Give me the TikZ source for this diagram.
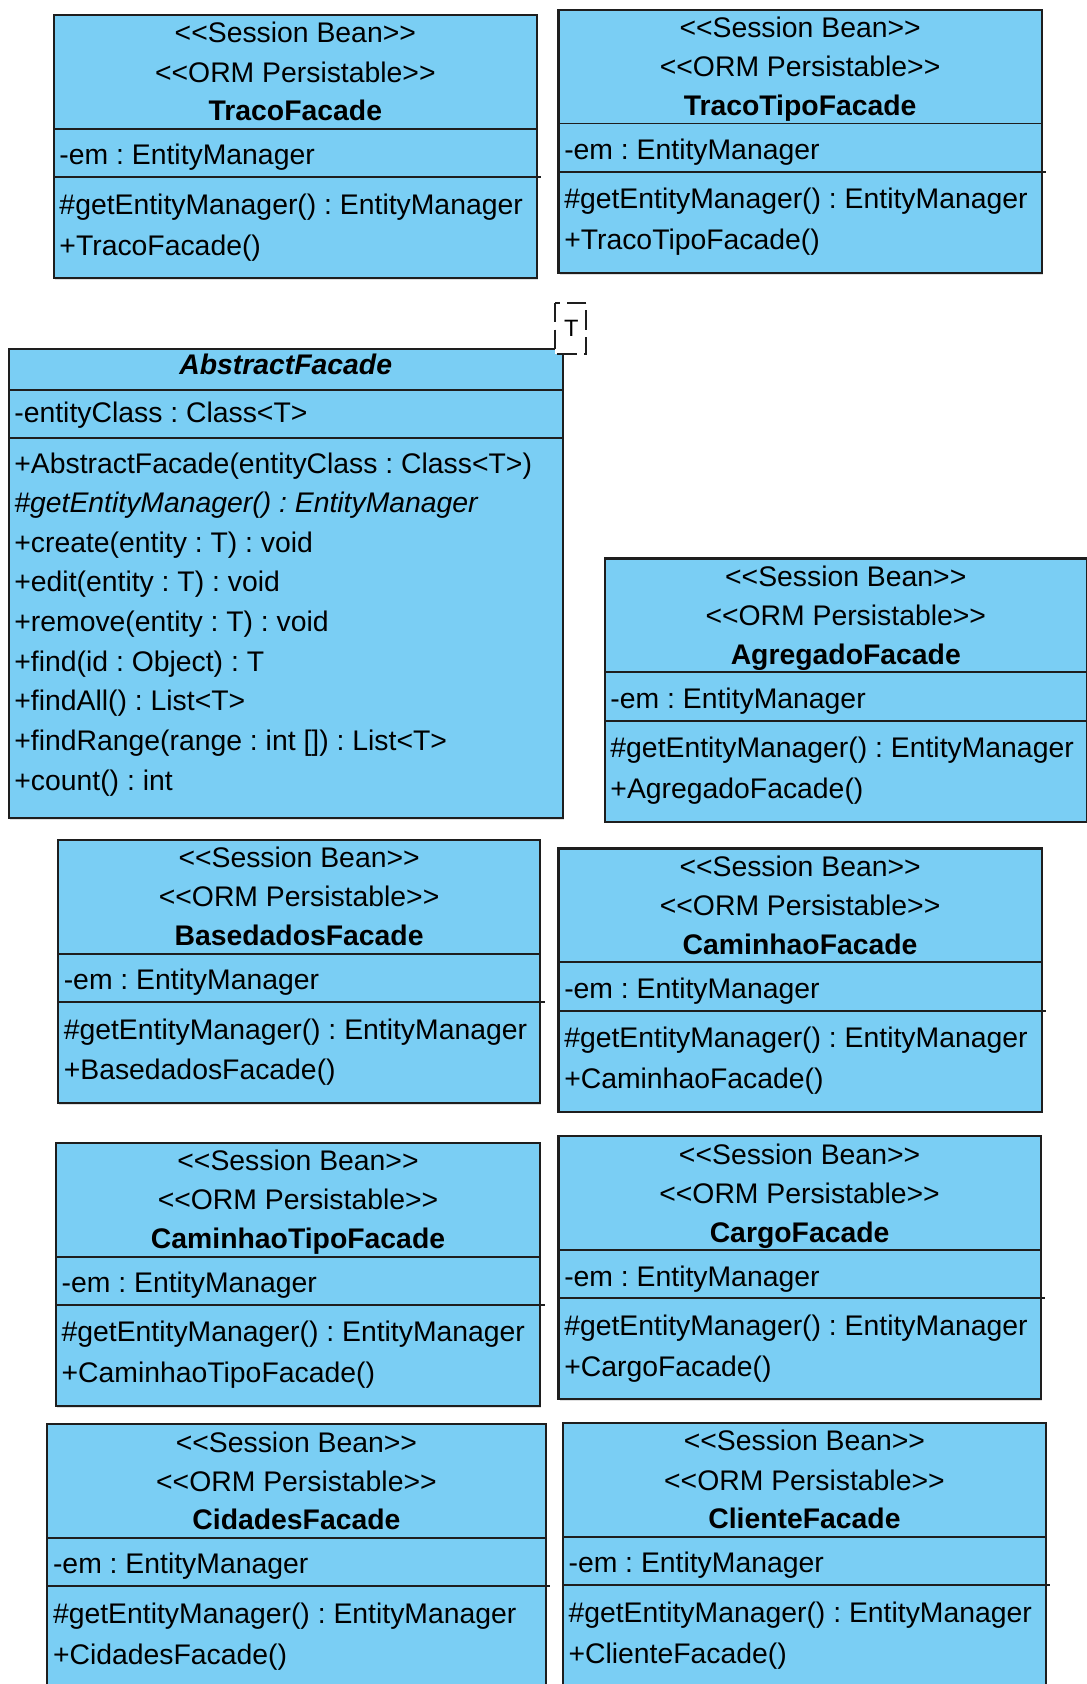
\documentclass[tikz,border=0pt]{standalone}
\usepackage{fontspec}
\setmainfont{Liberation Sans}[Ligatures=TeXOff]
\frenchspacing
\usetikzlibrary{shadows}

\definecolor{classfill}{RGB}{122,206,244}
\definecolor{classline}{RGB}{30,30,30}

\tikzset{
  classbox/.style={draw=classline, fill=classfill, line width=1pt,
    drop shadow={shadow xshift=0.5pt, shadow yshift=-0.8pt, opacity=0.25}},
  sepline/.style={draw=classline, line width=0.9pt},
  stereo/.style={anchor=base, inner sep=0pt, font=\fontsize{13.2}{16}\selectfont},
  classname/.style={stereo, font=\fontsize{13.2}{16}\selectfont\bfseries},
  member/.style={anchor=base west, inner sep=0pt, font=\fontsize{13.2}{16}\selectfont},
  tparam/.style={draw=classline, fill=white, line width=0.9pt, dash pattern=on 9pt off 3.5pt}
}

% session bean facade: name, left, top, width, class name
\newcommand{\facade}[5]{
  \draw[classbox] (#2,#3) rectangle ++(#4,245);
  \draw[sepline] (#2,#3+106) -- ++(#4,0);
  \draw[sepline] (#2,#3+151) -- ++(#4+4,0);
  \node[stereo] (#1-sb) at (#2+#4/2,#3+26) {<<Session Bean>>};
  \node[stereo] (#1-orm) at (#2+#4/2,#3+62.5) {<<ORM Persistable>>};
  \node[classname] (#1) at (#2+#4/2,#3+98.5) {#5};
  \node[member] (#1-em) at (#2+5,#3+139.5) {-em : EntityManager};
  \node[member] (#1-get) at (#2+5,#3+185.5) {\#getEntityManager() : EntityManager};
  \node[member] (#1-new) at (#2+5,#3+223.5) {+#5()};
}

\begin{document}
\begin{tikzpicture}[x=0.5pt, y=-0.5pt]
\useasboundingbox (0,0) rectangle (1012,1568);
\clip (0,0) rectangle (1012,1568);

% Top row
\facade{traco}{50}{14}{450}{TracoFacade}
\facade{tracotipo}{520}{9}{450}{TracoTipoFacade}

% AbstractFacade
\draw[classbox] (8,325) rectangle (524,762);
\draw[sepline] (8,363) -- (524,363);
\draw[sepline] (8,408) -- (524,408);
\node[classname, font=\fontsize{13.2}{16}\selectfont\bfseries\itshape] (abstract) at (266,348.5) {AbstractFacade};
\node[member] (abstract-cls) at (13,393.5) {-entityClass : Class<T>};
\foreach \m [count=\i from 0] in {+AbstractFacade(entityClass : Class<T>),
    {\itshape\#getEntityManager() : EntityManager},
    +create(entity : T) : void, +edit(entity : T) : void, +remove(entity : T) : void,
    +find(id : Object) : T, +findAll() : List<T>, +findRange(range : int []) : List<T>,
    +count() : int}
  \node[member] (abstract-m\i) at (13,440.5+36.9*\i) {\m};

% Template parameter
\draw[tparam] (517,282) rectangle (546,330);
\node[stereo, font=\fontsize{11}{13}\selectfont] (tparam) at (532,313.5) {T};

% Remaining facades
\facade{agregado}{563}{520}{449}{AgregadoFacade}
\facade{basedados}{54}{782}{449}{BasedadosFacade}
\facade{caminhao}{520}{790}{450}{CaminhaoFacade}
\facade{caminhaotipo}{52}{1064}{451}{CaminhaoTipoFacade}
\facade{cargo}{520}{1058}{449}{CargoFacade}
\facade{cidades}{44}{1326}{464}{CidadesFacade}
\facade{cliente}{524}{1325}{450}{ClienteFacade}
\end{tikzpicture}
\end{document}
